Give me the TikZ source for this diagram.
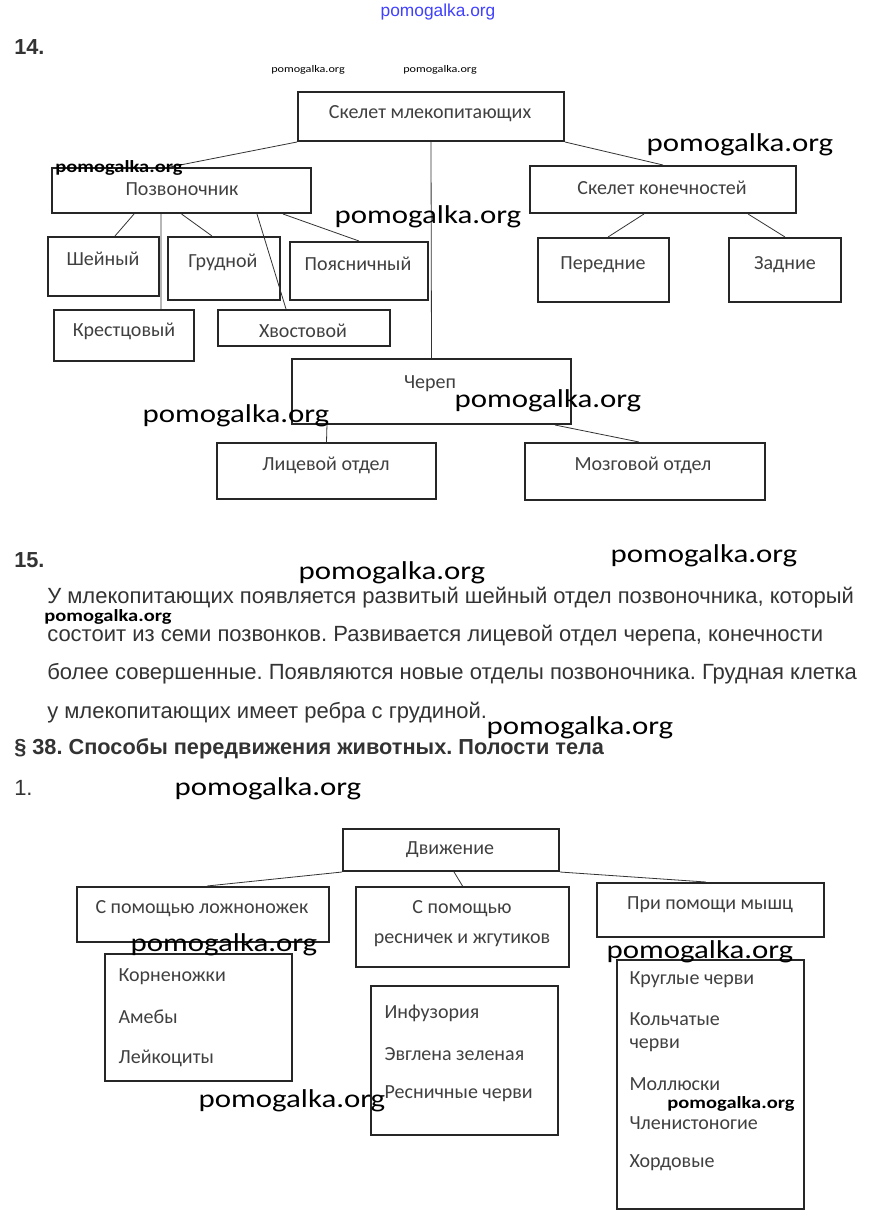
\documentclass[tikz,border=0pt]{standalone}
\usepackage{fontspec}
\setmainfont{Carlito}
\newfontfamily\arialfont{Liberation Sans}
\newfontfamily\wmfont[FakeStretch=1.2]{Carlito}
\usetikzlibrary{positioning}
\frenchspacing

\tikzset{
  box/.style={draw=black!85, line width=1.5pt, inner sep=0pt},
  conn/.style={draw=black!80, line width=0.6pt},
  lbl/.style={text=black!75, font=\fontsize{15}{17}\selectfont, inner sep=1pt},
  item/.style={lbl, anchor=west},
  para/.style={text=black!80, font=\arialfont\fontsize{16.5}{18}\selectfont, anchor=west, inner sep=0pt},
  num/.style={para, font=\arialfont\bfseries\fontsize{16.3}{18}\selectfont},
  wm/.style={font=\wmfont\fontsize{19.3}{22}\selectfont, inner sep=0pt},
  wmb/.style={font=\wmfont\bfseries\fontsize{12.8}{15}\selectfont, inner sep=0pt},
}

% box from (x1,y1) to (x2,y2), pixel units
\newcommand{\skbox}[5]{%
  \node[box, minimum width={(#4-#2)*0.75pt}, minimum height={(#5-#3)*0.75pt}]
    (#1) at ({(#2+#4)/2},{(#3+#5)/2}) {};}

\begin{document}
\begin{tikzpicture}[x=0.75pt, y=-0.75pt]
  \fill[white] (0,0) rectangle (874,1224);
  \useasboundingbox (0,0) rectangle (874,1224);

  % 14.
  \node[num] (n14) at (14,47) {14.};

  \skbox{skelet}{298}{92}{564}{141}
  \skbox{pozv}{52}{168}{311}{213}
  \skbox{konech}{530}{166}{796}{213}
  \skbox{sheyny}{48}{237}{159}{296}
  \skbox{grud}{168}{237}{280}{300}
  \skbox{poyas}{290}{242}{428}{300}
  \skbox{krest}{54}{310}{194}{361}
  \skbox{khvost}{218}{310}{390}{346}
  \skbox{pered}{538}{238}{669}{302}
  \skbox{zadn}{729}{238}{841}{302}
  \skbox{cherep}{292}{359}{571}{424}
  \skbox{lits}{217}{443}{436}{499}
  \skbox{mozg}{525}{443}{765}{500}

  \node[lbl] (skeletT) at (430,114) {Скелет млекопитающих};
  \node[lbl] (pozvT) at (182,189) {Позвоночник};
  \node[lbl] (konechT) at (662,188) {Скелет конечностей};
  \node[lbl] (sheynyT) at (103,259) {Шейный};
  \node[lbl] (grudT) at (223,262) {Грудной};
  \node[lbl] (poyasT) at (358,264) {Поясничный};
  \node[lbl] (krestT) at (124,331) {Крестцовый};
  \node[lbl] (khvostT) at (303,331) {Хвостовой};
  \node[lbl] (peredT) at (603,265) {Передние};
  \node[lbl] (zadnT) at (785,265) {Задние};
  \node[lbl] (cherepT) at (430,384) {Череп};
  \node[lbl] (litsT) at (326,465) {Лицевой отдел};
  \node[lbl] (mozgT) at (643,465) {Мозговой отдел};

  \draw[conn] (skelet.south west) -- ([xshift=-8.6pt]pozv.north);
  \draw[conn] (skelet.south) -- (cherep.north);
  \draw[conn] (skelet.south east) -- (konech.north);
  \draw[conn] ([xshift=-35.6pt]pozv.south) -- ([xshift=8.6pt]sheyny.north);
  \draw[conn] ([xshift=-15.4pt]pozv.south) -- ([xshift=27.8pt]krest.north);
  \draw[conn] (pozv.south) -- ([xshift=-9pt]grud.north);
  \draw[conn] ([xshift=56.6pt]pozv.south) -- ([xshift=-13.5pt]khvost.north);
  \draw[conn] ([xshift=76.1pt]pozv.south) -- (poyas.north);
  \draw[conn] ([xshift=-14.3pt]konech.south) -- ([xshift=3.4pt]pered.north);
  \draw[conn] ([xshift=63.8pt]konech.south) -- (zadn.north);
  \draw[conn] ([xshift=-78.4pt]cherep.south) -- (lits.north);
  \draw[conn] ([xshift=92.6pt]cherep.south) -- ([xshift=-4.5pt]mozg.north);

  % 15.
  \node[num] (n15) at (14,560) {15.};
  \node[para] (par1) at (47,598) {У млекопитающих появляется развитый шейный отдел позвоночника, который};
  \node[para] (par2) at (47,636) {состоит из семи позвонков. Развивается лицевой отдел черепа, конечности};
  \node[para] (par3) at (47,674) {более совершенные. Появляются новые отделы позвоночника. Грудная клетка};
  \node[para] (par4) at (47,713) {у млекопитающих имеет ребра с грудиной.};
  \node[num] (par38) at (14,749) {§ 38. Способы передвижения животных. Полости тела};

  % 1.
  \node[para] (n1) at (14,788) {1.};

  \skbox{dvizh}{343}{829}{559}{871}
  \skbox{lozhn}{77}{887}{329}{942}
  \skbox{resn}{356}{887}{569}{967}
  \skbox{mysh}{597}{883}{824}{937}
  \skbox{listA}{105}{954}{292}{1081}
  \skbox{listB}{371}{986}{558}{1135}
  \skbox{listC}{617}{960}{804}{1209}

  \node[lbl] (dvizhT) at (450,850) {Движение};
  \node[lbl] (lozhnT) at (202,909) {С помощью ложноножек};
  \node[lbl, align=center, text depth=0pt] (resnT) at (462,922)
    {С помощью\\[6pt]ресничек и жгутиков};
  \node[lbl] (myshT) at (710,905) {При помощи мышц};

  \draw[conn] (dvizh.south west) -- ([xshift=3pt]lozhn.north);
  \draw[conn] ([xshift=2.3pt]dvizh.south) -- (resn.north);
  \draw[conn] (dvizh.south east) -- ([xshift=-3.4pt]mysh.north);

  \node[item] (a1) at (117,977) {Корненожки};
  \node[item] (a2) at (117,1017) {Амебы};
  \node[item] (a3) at (117,1058) {Лейкоциты};
  \node[item] (b1) at (383,1013) {Инфузория};
  \node[item] (b2) at (383,1054) {Эвглена зеленая};
  \node[item] (b3) at (383,1094) {Ресничные черви};
  \node[item] (c1) at (628,980) {Круглые черви};
  \node[item] (c2) at (628,1019) {Кольчатые};
  \node[item] (c3) at (628,1045) {черви};
  \node[item] (c4) at (628,1084) {Моллюски};
  \node[item] (c5) at (628,1123) {Членистоногие};
  \node[item] (c6) at (628,1163) {Хордовые};

  % watermarks
  \node[font=\arialfont\fontsize{13}{15}\selectfont, text=blue!75!white, inner sep=0pt] (wmTop) at (438,12) {pomogalka.org};
  \node[font=\wmfont\fontsize{7.6}{9}\selectfont, inner sep=0pt] (wmS1) at (308,70) {pomogalka.org};
  \node[font=\wmfont\fontsize{7.6}{9}\selectfont, inner sep=0pt] (wmS2) at (440,70) {pomogalka.org};
  \node[wmb] (wmM1) at (119,168) {pomogalka.org};
  \node[wmb] (wmM2) at (108,617) {pomogalka.org};
  \node[wmb] (wmM3) at (731,1104) {pomogalka.org};
  \node[wm] (wm1) at (740,145) {pomogalka.org};
  \node[wm] (wm2) at (428,217) {pomogalka.org};
  \node[wm] (wm3) at (236,416) {pomogalka.org};
  \node[wm] (wm4) at (548,401) {pomogalka.org};
  \node[wm] (wm5) at (704,556) {pomogalka.org};
  \node[wm] (wm6) at (392,573) {pomogalka.org};
  \node[wm] (wm7) at (580,728) {pomogalka.org};
  \node[wm] (wm8) at (268,789) {pomogalka.org};
  \node[wm] (wm9) at (224,945) {pomogalka.org};
  \node[wm] (wm10) at (700,952) {pomogalka.org};
  \node[wm] (wm11) at (292,1101) {pomogalka.org};
\end{tikzpicture}
\end{document}
